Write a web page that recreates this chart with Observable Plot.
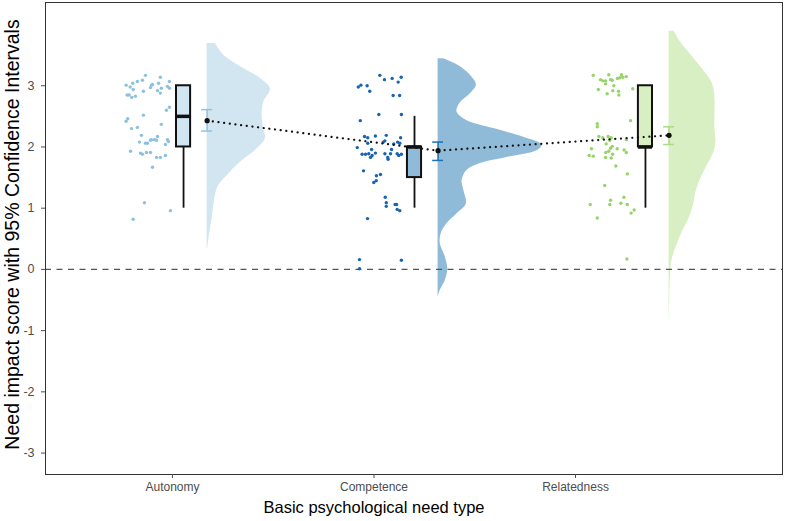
<!DOCTYPE html>
<html>
<head>
<meta charset="utf-8">
<script src="https://cdn.jsdelivr.net/npm/d3@7"></script>
<script src="https://cdn.jsdelivr.net/npm/@observablehq/plot@0.6"></script>
<style>
  html, body { margin: 0; padding: 0; background: white; }
</style>
</head>
<body>
<div id="chart"></div>
<script>
// ---------- data ----------
const groups = ["Autonomy", "Competence", "Relatedness"];
const groupTicks = [1, 2, 3];
const yTicks = [-3, -2, -1, 0, 1, 2, 3];
const xTitle = "Basic psychological need type";
const yTitle = "Need impact score with 95% Confidence Intervals";

// raw scores: [jittered x, score]
const autonomyPts = [[0.826,3.07],[0.851,3.09],[0.866,3.17],[0.896,3.01],[0.891,2.97],[0.901,3.02],[0.931,3.04],[0.940,3.14],[0.926,2.92],[0.945,2.96],[0.940,2.88],[0.975,2.99],[0.985,3.07],[0.985,2.96],[0.856,2.91],[0.816,2.83],[0.985,2.65],[0.970,2.60],[0.856,2.52],[0.945,2.37],[0.826,2.32],[0.846,2.19],[0.926,2.17],[0.911,2.12],[0.836,2.08],[0.866,2.06],[0.876,2.06],[0.891,2.11],[0.896,2.12],[0.921,2.11],[0.975,2.12],[0.980,2.09],[0.965,2.04],[0.841,1.90],[0.851,1.88],[0.871,1.91],[0.891,1.91],[0.921,1.83],[0.940,1.83],[0.965,1.86],[0.901,1.67],[0.861,1.09],[0.990,0.96],[0.803,3.04],[0.770,3.01],[0.790,2.98],[0.805,2.94],[0.775,2.85],[0.785,2.85],[0.798,2.81],[0.770,2.42],[0.778,2.46],[0.797,2.30],[0.792,1.93],[0.805,0.82]];
const competencePts = [[2.029,3.17],[2.052,3.10],[2.090,3.12],[2.120,3.06],[2.135,3.14],[1.922,2.98],[1.935,3.01],[1.966,3.00],[1.979,2.91],[2.095,2.84],[2.127,2.84],[2.024,2.53],[2.136,2.53],[1.932,2.43],[1.953,2.17],[1.969,2.15],[2.007,2.18],[2.061,2.19],[2.054,2.10],[2.046,2.08],[2.098,2.05],[2.117,2.08],[2.128,2.06],[2.132,2.15],[1.917,1.99],[1.969,2.06],[1.988,1.96],[1.941,1.88],[1.958,1.88],[1.974,1.89],[1.983,1.83],[1.991,1.86],[2.007,1.90],[2.054,1.89],[2.068,1.83],[2.070,1.80],[2.087,1.96],[2.082,1.89],[2.115,1.89],[2.123,1.86],[2.136,1.88],[1.948,1.61],[2.012,1.53],[2.032,1.55],[2.011,1.45],[1.999,1.42],[2.056,1.18],[2.061,1.09],[2.061,1.03],[2.105,1.06],[2.112,1.06],[2.115,0.98],[2.128,0.96],[1.968,0.83],[1.928,0.16],[2.136,0.15],[1.928,0.01]];
const relatednessPts = [[3.088,3.17],[3.124,3.10],[3.135,3.08],[3.149,3.08],[3.149,3.03],[3.165,3.18],[3.174,3.10],[3.182,3.09],[3.208,3.12],[3.220,3.13],[3.228,3.18],[3.235,3.14],[3.252,3.15],[3.190,3.00],[3.185,2.92],[3.113,2.94],[3.157,2.87],[3.213,2.91],[3.215,2.85],[3.284,2.95],[3.108,2.38],[3.108,2.33],[3.273,2.43],[3.116,2.17],[3.135,2.15],[3.162,2.17],[3.177,2.15],[3.169,2.11],[3.252,2.12],[3.152,2.05],[3.182,2.01],[3.174,1.98],[3.079,1.97],[3.207,1.97],[3.165,1.93],[3.150,1.91],[3.241,1.95],[3.252,1.91],[3.068,1.86],[3.088,1.85],[3.184,1.88],[3.149,1.83],[3.177,1.82],[3.200,1.69],[3.257,1.56],[3.145,1.37],[3.073,1.06],[3.108,0.84],[3.174,1.13],[3.170,1.06],[3.225,1.08],[3.240,1.18],[3.257,1.06],[3.276,0.92],[3.291,0.97],[3.255,0.17]];

// half-violin density profiles: [score, density width]
const autonomyViolin = [[3.69,0.041],[3.50,0.083],[3.28,0.182],[3.12,0.265],[2.95,0.314],[2.73,0.281],[2.52,0.273],[2.30,0.281],[2.14,0.289],[1.97,0.248],[1.75,0.165],[1.53,0.099],[1.37,0.058],[1.21,0.041],[0.83,0.025],[0.56,0.011],[0.34,0.003]];
const competenceViolin = [[3.44,0.028],[3.31,0.111],[3.14,0.169],[3.01,0.190],[2.87,0.160],[2.71,0.108],[2.57,0.094],[2.43,0.144],[2.30,0.276],[2.16,0.425],[2.03,0.516],[1.94,0.491],[1.83,0.342],[1.73,0.210],[1.62,0.144],[1.45,0.119],[1.29,0.128],[1.07,0.140],[0.91,0.094],[0.75,0.045],[0.58,0.015],[0.42,0.011],[0.20,0.036],[0.01,0.048],[-0.18,0.036],[-0.34,0.011],[-0.45,0.0]];
const relatednessViolin = [[3.89,0.025],[3.71,0.058],[3.44,0.124],[3.17,0.190],[3.01,0.218],[2.79,0.228],[2.57,0.228],[2.35,0.227],[2.08,0.232],[1.92,0.223],[1.70,0.190],[1.48,0.157],[1.26,0.133],[1.05,0.121],[0.83,0.099],[0.61,0.066],[0.39,0.038],[0.17,0.016],[-0.04,0.008],[-0.26,0.005],[-0.59,0.003],[-0.89,0]];

// boxplot statistics
const boxQ1 = [2.0, 1.5, 2.0];
const boxMedian = [2.5, 2.0, 2.0];
const boxQ3 = [3.0, 2.0, 3.0];
const whiskerLow = [1.0, 1.0, 1.0];
const whiskerHigh = [3.0, 2.5, 3.0];

// means with 95% CI
const means = [2.43, 1.94, 2.19];
const ciLow = [2.26, 1.78, 2.04];
const ciHigh = [2.61, 2.08, 2.33];

// ---------- styling ----------
const pointColors = ["#8cc1de", "#1764b0", "#94d468"];
const fillColors = ["#d2e6f1", "#8fbbd9", "#d8efc4"];
const errColors = ["#8fc3e0", "#1f72b6", "#a8dc86"];

// ---------- layout helpers (raincloud element offsets) ----------
const groupShift = 0.146;
const boxOffset = 0.055, cloudOffset = 0.172, boxHalf = 0.035, capHalf = 0.027;

const boxRows = groups.map((g, i) => ({
  i, bx: groupTicks[i] + boxOffset + groupShift * i,
  q1: boxQ1[i], med: boxMedian[i], q3: boxQ3[i], wl: whiskerLow[i], wh: whiskerHigh[i]
}));
const meanRows = groups.map((g, i) => ({
  i, base: groupTicks[i] + cloudOffset + groupShift * i,
  mean: means[i], lo: ciLow[i], hi: ciHigh[i]
}));
const violins = [autonomyViolin, competenceViolin, relatednessViolin].map((arr, i) =>
  arr.map(([v, w]) => ({v, base: meanRows[i].base, end: meanRows[i].base + w})));
const ptsSets = [autonomyPts, competencePts, relatednessPts].map(arr => arr.map(([x, v]) => ({x, v})));

const marks = [];
violins.forEach((rows, i) => marks.push(Plot.areaX(rows, {y: "v", x1: "base", x2: "end", fill: fillColors[i], curve: "catmull-rom"})));
marks.push(Plot.ruleY([0], {stroke: "#555", strokeWidth: 1.2, strokeDasharray: "6,5.5"}));
ptsSets.forEach((rows, i) => marks.push(Plot.dot(rows, {x: "x", y: "v", r: 1.7, fill: pointColors[i], stroke: null})));
// boxplots
marks.push(Plot.ruleX(boxRows, {x: "bx", y1: "wl", y2: "q1", stroke: "#111", strokeWidth: 1.8}));
marks.push(Plot.ruleX(boxRows, {x: "bx", y1: "q3", y2: "wh", stroke: "#111", strokeWidth: 1.8}));
boxRows.forEach((b, i) => marks.push(Plot.rect([b], {x1: d => d.bx - boxHalf, x2: d => d.bx + boxHalf, y1: "q1", y2: "q3", fill: fillColors[i], stroke: "#111", strokeWidth: 2})));
marks.push(Plot.ruleY(boxRows, {y: "med", x1: d => d.bx - boxHalf, x2: d => d.bx + boxHalf, stroke: "#111", strokeWidth: 3.5}));
// error bars
meanRows.forEach((m, i) => {
  marks.push(Plot.ruleX([m], {x: "base", y1: "lo", y2: "hi", stroke: errColors[i], strokeWidth: 1.5}));
  marks.push(Plot.ruleY([m], {y: "lo", x1: d => d.base - capHalf, x2: d => d.base + capHalf, stroke: errColors[i], strokeWidth: 1.5}));
  marks.push(Plot.ruleY([m], {y: "hi", x1: d => d.base - capHalf, x2: d => d.base + capHalf, stroke: errColors[i], strokeWidth: 1.5}));
});
marks.push(Plot.line(meanRows, {x: "base", y: "mean", stroke: "#111", strokeWidth: 2.2, strokeDasharray: "0.1,5.6", strokeLinecap: "round"}));
marks.push(Plot.dot(meanRows, {x: "base", y: "mean", r: 2.6, fill: "#111", stroke: null}));
marks.push(Plot.frame({stroke: "#333", strokeWidth: 1}));
marks.push(Plot.axisY({ticks: yTicks, tickSize: 4, tickPadding: 7, label: null, fontSize: 12.5, color: "#4d4d4d", tickFormat: d => d < 0 ? "-" + Math.abs(d) : String(d)}));
marks.push(Plot.axisX({ticks: groupTicks, tickSize: 4, tickPadding: 4, label: null, fontSize: 12, color: "#4d4d4d", tickFormat: d => groups[d - 1]}));
marks.push(Plot.text([yTitle], {text: d => d, frameAnchor: "left", textAnchor: "middle", lineAnchor: "middle", rotate: -90, dx: -33, dy: -4, fontSize: 19.5, fill: "black"}));
marks.push(Plot.text([xTitle], {text: d => d, x: () => groupTicks[1], frameAnchor: "bottom", textAnchor: "middle", lineAnchor: "middle", dy: 33, fontSize: 16.5, fill: "black"}));

const chart = Plot.plot({
  width: 787,
  height: 521,
  marginLeft: 45,
  marginRight: 5,
  marginTop: 2,
  marginBottom: 47,
  x: {domain: [0.37, 4.027]},
  y: {domain: [-3.35, 4.36]},
  style: {fontFamily: "'Liberation Sans', Arial, sans-serif", background: "white", overflow: "visible"},
  marks
});
document.getElementById("chart").appendChild(chart);
</script>
</body>
</html>
